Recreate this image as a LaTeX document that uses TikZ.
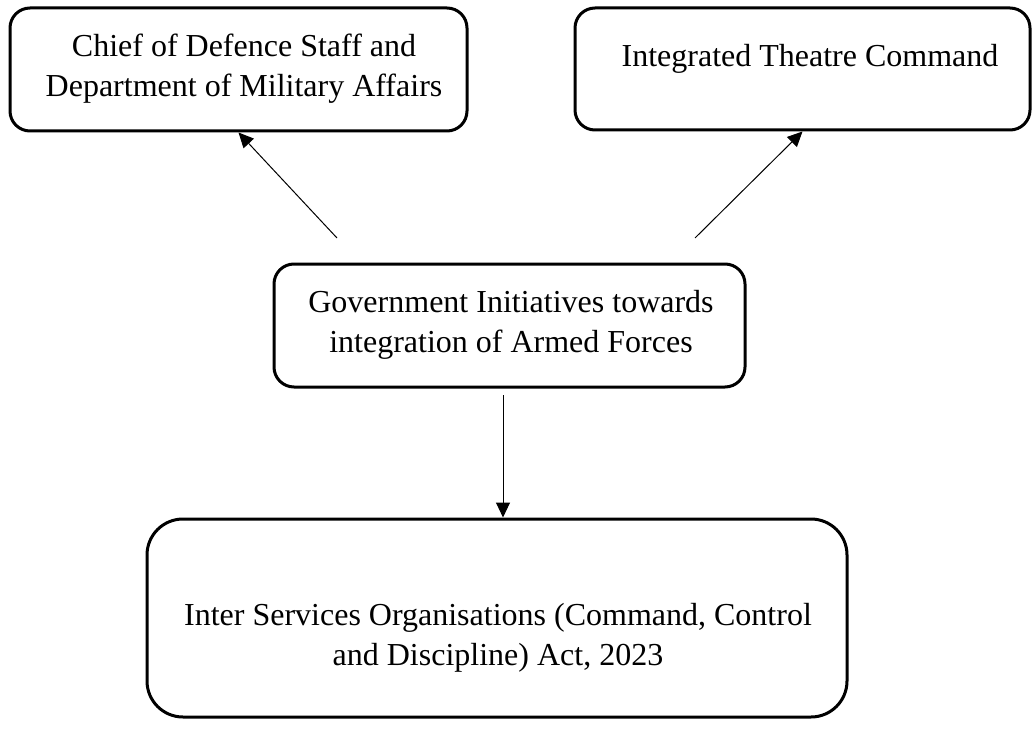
\documentclass[tikz,border=0pt]{standalone}
\usepackage{fontspec}
\setmainfont{Liberation Serif}
\usetikzlibrary{arrows.meta}
\tikzset{
  box/.style={draw, line width=1.5pt, rounded corners=10pt, inner sep=0pt},
  bigbox/.style={box, rounded corners=18pt},   % the Act gets wider corners
  txt/.style={align=center, anchor=base, inner sep=0pt, font=\fontsize{16}{20}\selectfont},
  link/.style={-{Triangle[length=7.5pt,width=7pt]}, line width=0.5pt}
}
\begin{document}
\begin{tikzpicture}[x=0.5pt, y=-0.5pt]
  \useasboundingbox (0,0) rectangle (1033,733);
  % frames (sizes in pt, positions on the 0.5pt grid)
  \node[box, minimum width=228.5pt, minimum height=61.5pt] (cds) at (238.5,69.5) {};
  \node[box, minimum width=227.5pt, minimum height=61pt] (itc) at (802.5,69) {};
  \node[box, minimum width=235.5pt, minimum height=61.5pt] (gov) at (509.5,325.5) {};
  \node[bigbox, minimum width=350pt, minimum height=99pt] (isoa) at (497,618) {};
  % texts, placed by their last baseline
  \node[txt] (cdsText) at (244,97) {Chief of Defence Staff and\\Department of Military Affairs};
  \node[txt] (itcText) at (810,67) {Integrated Theatre Command};
  \node[txt] (govText) at (511,352) {Government Initiatives towards\\integration of Armed Forces};
  \node[txt] (isoaText) at (498,665) {Inter Services Organisations (Command, Control\\and Discipline) Act, 2023};
  % arrows leave a gap above/below the middle frame
  \coordinate (fromL) at (337,238);
  \coordinate (fromR) at (695,238);
  \coordinate (fromD) at (503,395);
  \draw[link] (fromL) -- (cds.south);
  \draw[link] (fromR) -- (itc.south);
  \draw[link] (fromD) -- (fromD |- isoa.north);
\end{tikzpicture}
\end{document}
